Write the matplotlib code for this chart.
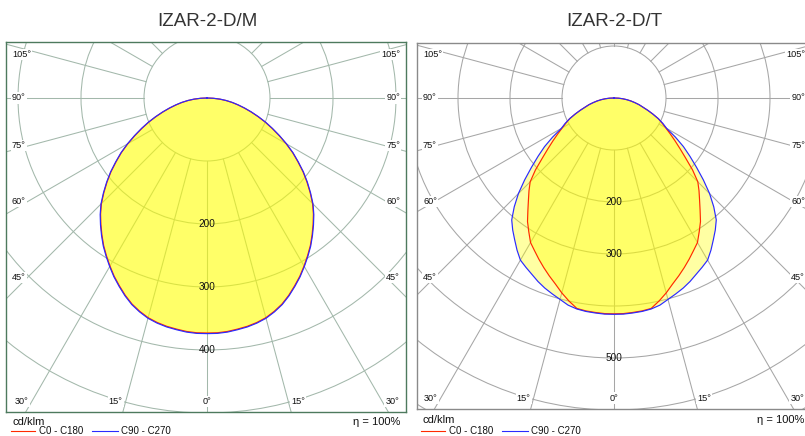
import numpy as np
import matplotlib
matplotlib.use("Agg")
import matplotlib.pyplot as plt
from matplotlib.patches import Circle
from matplotlib.lines import Line2D

plt.rcParams['font.family'] = ['Liberation Sans', 'DejaVu Sans']

# ---------------- data (cd/klm) ----------------
gamma = [0, 2.5, 5, 7.5, 10, 12.5, 15, 17.5, 20, 22.5, 25, 27.5, 30, 32.5, 35, 37.5,
         40, 42.5, 45, 47.5, 50, 52.5, 55, 57.5, 60, 62.5, 65, 67.5, 70, 72.5, 75,
         77.5, 80, 82.5, 85, 87.5, 90]

m_c0_c180 = [373, 373, 372, 370, 368, 365, 361, 355, 348, 339, 329, 319, 308, 297, 286, 274,
             262, 250, 237, 222, 207, 192, 176, 161, 145, 129, 114, 100, 86, 73, 61,
             50, 40, 30, 20, 10, 0]
m_c90_c270 = [374, 374, 373, 371, 369, 366, 362, 356, 349, 340, 330, 320, 309, 298, 287, 275,
              263, 251, 238, 223, 208, 193, 177, 162, 146, 130, 115, 101, 87, 74, 62,
              51, 41, 31, 21, 10, 0]

t_c0_c180 = [415, 415, 414, 413, 411, 400, 388, 375, 364, 353, 342, 331, 321, 305, 290, 272,
             256, 242, 228, 205, 180, 160, 143, 128, 115, 104, 94, 81, 69, 58, 50,
             41, 33, 25, 17, 9, 0]
t_c90_c270 = [416, 416, 415, 414, 412, 408, 401, 395, 389, 382, 374, 367, 360, 347, 333, 320,
              306, 284, 260, 233, 207, 184, 163, 140, 117, 106, 94, 81, 69, 58, 50,
              41, 33, 25, 17, 9, 0]

titles = ["IZAR-2-D/M", "IZAR-2-D/T"]
ring_labels_m = [200, 300, 400]
ring_labels_t = [200, 300, 500]
side_angles = [45, 60, 75, 90, 105]
bottom_angles = [0, 15, 30]
legend_labels = ["C0 - C180", "C90 - C270"]
unit_label = "cd/klm"
eta_label = "η = 100%"

# ---------------- layout ----------------
W, H = 805, 436
fig = plt.figure(figsize=(W / 100, H / 100), dpi=100)
side_label_y = {105: 54.5, 90: 98, 75: 145.5, 60: 201.5, 45: 277.5}


def make_panel(frame, center, scale, c0, c90, ring_labels, grid_col, frame_col, title, tx, yb_px):
    x0, y0, x1, y1 = frame
    cx, cy = center
    ax = fig.add_axes([x0 / W, 1 - y1 / H, (x1 - x0) / W, (y1 - y0) / H])
    ax.set_xlim((x0 - cx) / scale, (x1 - cx) / scale)
    ax.set_ylim((cy - y1) / scale, (cy - y0) / scale)
    ax.set_xticks([])
    ax.set_yticks([])
    for s in ax.spines.values():
        s.set_color(frame_col)
        s.set_linewidth(1.0)

    # circles
    for r in range(100, 1300, 100):
        ax.add_patch(Circle((0, 0), r, fill=False, ec=grid_col, lw=0.75, zorder=1))
    # radial lines from the 100 circle outward
    for k in range(24):
        a = np.radians(15 * k)
        ax.plot([100 * np.sin(a), 2000 * np.sin(a)], [-100 * np.cos(a), -2000 * np.cos(a)],
                color=grid_col, lw=0.75, zorder=1)

    g = np.radians(np.array(gamma, dtype=float))
    full_g = np.concatenate([-g[::-1], g[1:]])
    curves = []
    for vals in (c0, c90):
        v = np.array(vals, dtype=float)
        full_v = np.concatenate([v[::-1], v[1:]])
        curves.append((full_v * np.sin(full_g), -full_v * np.cos(full_g)))
    for xs, ys in curves:
        ax.fill(xs, ys, color='#ffff00', alpha=0.36, lw=0, zorder=2)
    for (xs, ys), col in zip(curves, ('#ff2a00', '#2a2aff')):
        ax.plot(xs, ys, color=col, lw=0.85, zorder=3)

    # ring labels
    for r in ring_labels:
        ax.text(0, -r, str(r), ha='center', va='center', fontsize=7.2, color='#111111', zorder=4)

    bbox = dict(boxstyle='square,pad=0.12', fc='white', ec='none')
    xl0, xl1 = ax.get_xlim()
    # side labels
    for a in side_angles:
        yv = (cy - side_label_y[a]) / scale
        ax.text(xl0 + 6 / scale, yv, f"{a}°", ha='left', va='center', fontsize=6.6,
                color='#111111', bbox=bbox, zorder=5)
        ax.text(xl1 - 6 / scale, yv, f"{a}°", ha='right', va='center', fontsize=6.6,
                color='#111111', bbox=bbox, zorder=5)
    # bottom labels
    yb = (cy - yb_px) / scale
    for a in bottom_angles:
        xv = -yb * np.tan(np.radians(a))
        if a == 0:
            ax.text(0, yb, "0°", ha='center', va='center', fontsize=6.6, color='#111111',
                    bbox=bbox, zorder=5)
        else:
            ax.text(-xv - 3 / scale, yb, f"{a}°", ha='right', va='center', fontsize=6.6,
                    color='#111111', bbox=bbox, zorder=5)
            ax.text(xv + 3 / scale, yb, f"{a}°", ha='left', va='center', fontsize=6.6,
                    color='#111111', bbox=bbox, zorder=5)

    fig.text(tx / W, 1 - 22 / H, title, ha='center', va='center', fontsize=13.5, color='#333333')
    return ax


make_panel((6, 42, 406, 412), (207, 98), 0.63, m_c0_c180, m_c90_c270, ring_labels_m,
           '#a3b8ab', '#4d7a5e', titles[0], 207, 401.5)
make_panel((417, 43, 811, 409), (614, 98), 0.52, t_c0_c180, t_c90_c270, ring_labels_t,
           '#a6a6a6', '#8a8a8a', titles[1], 614, 398)


def footer(xoff, y_unit, y_leg, eta_right):
    fig.text((12 + xoff) / W, 1 - y_unit / H, unit_label, ha='left', va='center', fontsize=8, color='#111111')
    fig.text(eta_right / W, 1 - y_unit / H, eta_label, ha='right', va='center', fontsize=8, color='#111111')
    for (lx0, lx1, tx), col, lab in (((11, 35, 39), '#ff2a00', legend_labels[0]),
                                     ((92, 118, 120.5), '#2a2aff', legend_labels[1])):
        fig.add_artist(Line2D([(lx0 + xoff) / W, (lx1 + xoff) / W], [1 - y_leg / H, 1 - y_leg / H],
                              color=col, lw=0.8, transform=fig.transFigure))
        fig.text((tx + xoff) / W, 1 - y_leg / H, lab, ha='left', va='center', fontsize=7, color='#111111')


footer(0, 421.5, 431, 400)
footer(410, 419.5, 430.5, 804)

fig.savefig("out.png", dpi=100)
